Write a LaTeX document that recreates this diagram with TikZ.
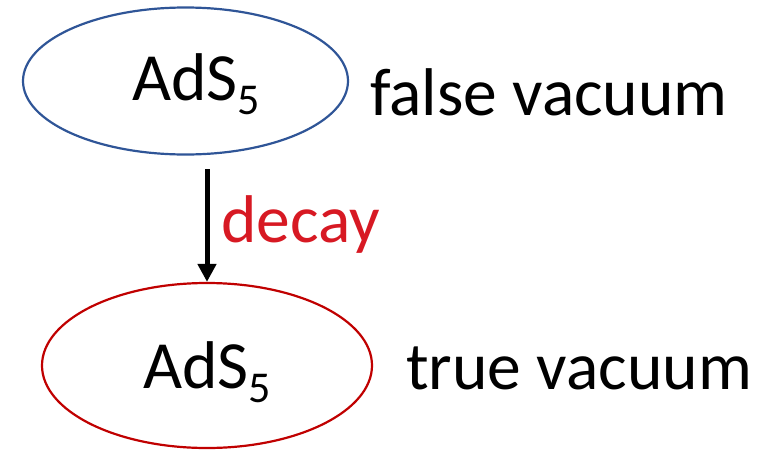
\documentclass[tikz,border=0pt]{standalone}
\usepackage{fontspec}
\setmainfont{Carlito}
\usetikzlibrary{shapes.geometric,arrows.meta}
\definecolor{ovblue}{RGB}{47,85,151}
\definecolor{ovred}{RGB}{192,0,0}
\definecolor{decayred}{RGB}{215,25,35}
\begin{document}
\begin{tikzpicture}[x=1pt,y=-1pt,
  vac/.style={ellipse,draw,line width=2.2pt,inner sep=0pt},
  big/.style={font=\fontsize{67.5}{80}\selectfont,inner sep=0pt,anchor=base west},
]
\useasboundingbox (0,0) rectangle (772,450);
\node[vac,draw=ovblue,minimum width=325pt,minimum height=147pt] (top) at (185.5,81) {};
\node[vac,draw=ovred,minimum width=330pt,minimum height=165pt] (bot) at (207,365.5) {};
\node[big] (adsA) at (132,100) {AdS\raisebox{-14pt}{\fontsize{44}{50}\selectfont 5}};
\node[big] (adsB) at (143,388) {AdS\raisebox{-14pt}{\fontsize{44}{50}\selectfont 5}};
\node[big] (fv) at (370,115) {false vacuum};
\node[big] (tv) at (406,389) {true vacuum};
\node[big,text=decayred] (dec) at (221,242) {decay};
\coordinate (s) at (207,169);
\draw[line width=5pt,-{Triangle[width=18pt,length=18pt]}] (s) -- (bot.north);
\end{tikzpicture}
\end{document}
